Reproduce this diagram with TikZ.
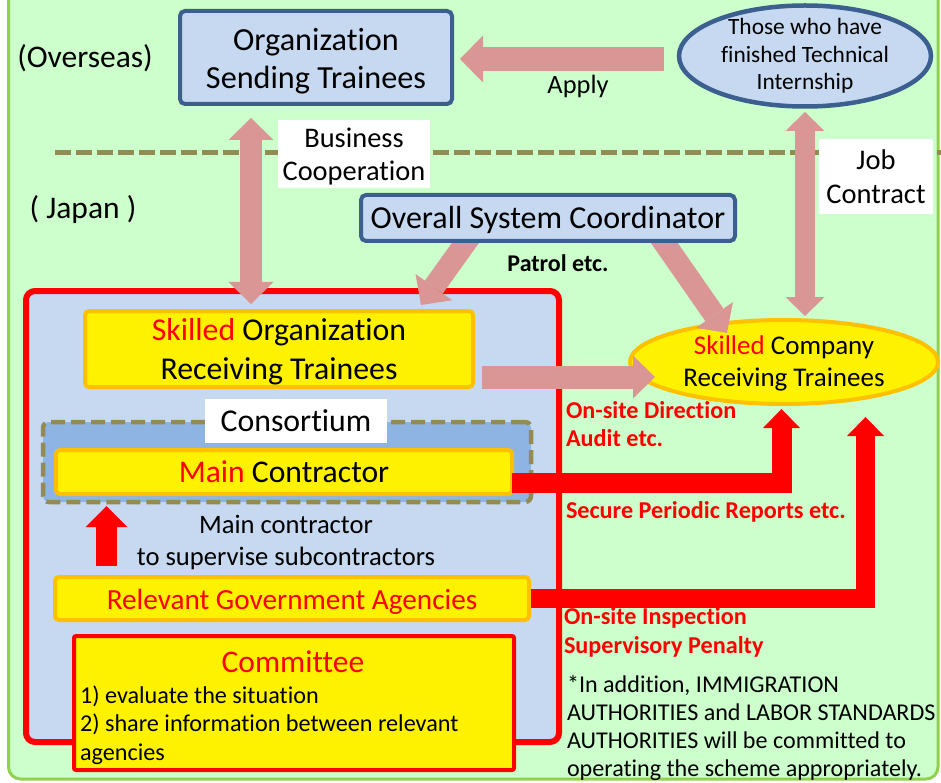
\documentclass[tikz,border=0pt]{standalone}
\usepackage{fontspec}
\setmainfont{Carlito}[Ligatures={NoCommon}]
\usetikzlibrary{arrows.meta,shapes.geometric}
\definecolor{bggreen}{HTML}{CCFFCC}
\definecolor{bgedge}{HTML}{92D050}
\definecolor{lblue}{HTML}{C6D9F1}
\definecolor{dblue}{HTML}{3B5F8E}
\definecolor{pinkarr}{HTML}{D99694}
\definecolor{orangeb}{HTML}{FFC000}
\definecolor{consfill}{HTML}{8EB4E3}
\definecolor{olivec}{HTML}{948A54}
\newcommand{\fsz}[2]{\fontsize{#1}{#2}\selectfont}
\newcommand{\lowered}[2]{\raisebox{-#1}[\height][\depth]{#2}}
\pgfdeclarelayer{front}
\pgfsetlayers{main,front}
\begin{document}
\begin{tikzpicture}[x=1pt,y=-1pt,
  every node/.append style={outer sep=0pt},
  bluebox/.style={draw=dblue,fill=lblue,line width=4pt,rounded corners=5pt,inner sep=0pt,align=center},
  yelbox/.style={draw=orangeb,fill=yellow,line width=4pt,rounded corners=4pt,inner sep=0pt,align=center},
  whitebox/.style={fill=white,inner sep=0pt,align=center},
  txt/.style={inner sep=0pt,align=center},
  redlbl/.style={inner sep=0pt,align=left,anchor=west,text=red,font=\bfseries\fsz{24.2}{28.5}},
  fatone/.style n args={3}{line width=#1,-{Triangle[length=#2,width=#3,line width=0pt]}},
  fattwo/.style n args={3}{line width=#1,{Triangle[length=#2,width=#3,line width=0pt]}-{Triangle[length=#2,width=#3,line width=0pt]}}
]
\useasboundingbox (0,0) rectangle (941,783);
% background
\draw[bgedge,fill=bggreen,line width=3pt,rounded corners=12pt] (8.5,-30) rectangle (938,779);
\coordinate (dl) at (55,153);
\coordinate (dr) at (941,153);
\draw[olivec,line width=5pt,dash pattern=on 16pt off 5pt] (dl) -- (dr);

% group box
\node[draw=red,fill=lblue,line width=6pt,rounded corners=9pt,minimum width=533pt,minimum height=451pt] (grp) at (292.5,516.5) {};
\node[draw=olivec,fill=consfill,line width=4.5pt,dash pattern=on 14pt off 6pt,rounded corners=6pt,minimum width=488pt,minimum height=80pt] (cons) at (287,462) {};
\node[whitebox,minimum width=182pt,minimum height=44pt,font=\fsz{31.8}{36}] (conslbl) at (296,421) {Consortium};
\node[yelbox,minimum width=456pt,minimum height=44pt,font=\fsz{31.6}{36}] (mc) at (284,472) {\textcolor{red}{Main} Contractor};
\node[yelbox,minimum width=388pt,minimum height=76pt] (sorg) at (279,349) {};
\node[txt,font=\fsz{31.8}{39}] (sorgt) at (279,352) {\textcolor{red}{Skilled} Organization\\Receiving Trainees};
\node[yelbox,minimum width=474pt,minimum height=43pt,font=\fsz{29.2}{33},text=red] (gov) at (292,598.5) {\lowered{3pt}{Relevant Government Agencies}};
\node[draw=red,fill=yellow,line width=4pt,rounded corners=2pt,minimum width=440pt,minimum height=134pt] (com) at (294,703) {};
\node[txt,text=red,font=\fsz{31.5}{36}] (comt) at (293,662) {Committee};
\node[txt,align=left,anchor=west,font=\fsz{24.2}{28.5}] (coml) at (80,725) {1) evaluate the situation\\2) share information between relevant\\agencies};
\node[txt,font=\fsz{26.6}{32}] (sup) at (286,542) {Main contractor\\to supervise subcontractors};

% top part
\node[bluebox,minimum width=272pt,minimum height=93pt] (org) at (316,57.5) {};
\node[txt,font=\fsz{32.2}{38}] (orgt) at (316,61) {Organization\\Sending Trainees};
\node[draw=dblue,fill=lblue,line width=4.5pt,ellipse,minimum width=252pt,minimum height=101pt,inner sep=0pt] (ell) at (805,56) {};
\node[txt,font=\fsz{23.4}{27.5}] (ellt) at (805,56) {Those who have\\finished Technical\\Internship};
\begin{pgfonlayer}{front}
\node[bluebox,minimum width=374pt,minimum height=46pt,font=\fsz{32}{36}] (coord) at (548,218) {\lowered{2pt}{Overall System Coordinator}};
\end{pgfonlayer}
\node[draw=orangeb,fill=yellow,line width=4pt,ellipse,minimum width=308pt,minimum height=84pt,inner sep=0pt] (cmp) at (784,362) {};
\node[txt,font=\fsz{27}{32}] (cmpt) at (784,363) {\textcolor{red}{Skilled} Company\\Receiving Trainees};
\node[whitebox,minimum width=152pt,minimum height=68pt] (bc) at (354,154) {};
\node[txt,font=\fsz{28.4}{33}] (bct) at (354,157) {Business\\Cooperation};
\node[whitebox,minimum width=114pt,minimum height=75pt,font=\fsz{28.5}{34}] (jc) at (876,176.5) {Job\\Contract};

% labels
\node[txt,font=\fsz{31.5}{35}] (ovs) at (85,58) {(Overseas)};
\node[txt,font=\fsz{31.5}{35}] (jpn) at (83,210) {( Japan )};
\node[txt,font=\fsz{26.4}{32}] (apply) at (578,86) {Apply};
\node[txt,font=\bfseries\fsz{24}{26}] (patrol) at (558,263) {Patrol etc.};
\node[redlbl] (l1) at (566,424) {On-site Direction\\Audit etc.};
\node[redlbl] (l2) at (566,512) {Secure Periodic Reports etc.};
\node[redlbl,font=\bfseries\fsz{24.2}{29}] (l3) at (564,632.5) {On-site Inspection\\Supervisory Penalty};
\node[txt,align=left,anchor=west,font=\fsz{24.1}{28}] (note) at (567,728.5) {*In addition, IMMIGRATION\\AUTHORITIES and LABOR STANDARDS\\AUTHORITIES will be committed to\\operating the scheme appropriately.};

% pink arrows
\draw[pinkarr,fatone={24pt}{23pt}{47pt}] ([xshift=-15pt,yshift=-3pt]ell.west) -- ([xshift=8pt,yshift=-1.5pt]org.east);
\draw[pinkarr,fattwo={22pt}{22pt}{45pt}] ([xshift=-65pt,yshift=-14pt]org.south) -- ([xshift=-28pt,yshift=7pt]sorg.north);
\draw[pinkarr,fattwo={20pt}{19pt}{39pt}] ([yshift=-5.5pt]ell.south) -- ([xshift=21pt,yshift=4pt]cmp.north);
\draw[pinkarr,fatone={22pt}{22pt}{45pt}] ([xshift=-74pt,yshift=10pt]coord.south) -- ([xshift=142pt,yshift=6pt]sorg.north);
\draw[pinkarr,fatone={22pt}{22pt}{45pt}] ([xshift=108pt,yshift=10pt]coord.south) -- ([xshift=-57pt,yshift=29pt]cmp.center);
\draw[pinkarr,fatone={23pt}{22pt}{43pt}] ([xshift=9pt,yshift=-28pt]sorg.east) -- ([xshift=25pt,yshift=-15pt]cmp.west);

% red arrows
\draw[red,fatone={20pt}{19pt}{37pt}] ([yshift=-11pt]mc.east) -| ([xshift=-2.5pt,yshift=-5pt]cmp.south);
\draw[red,fatone={19pt}{19pt}{37pt}] ([xshift=2pt,yshift=0.5pt]gov.east) -| ([xshift=81.5pt,yshift=-13pt]cmp.south);
\draw[red,fatone={21pt}{21pt}{42pt}] ([xshift=-185.5pt,yshift=11pt]gov.north) -- ([xshift=-177.5pt,yshift=-12pt]mc.south);
\end{tikzpicture}
\end{document}
